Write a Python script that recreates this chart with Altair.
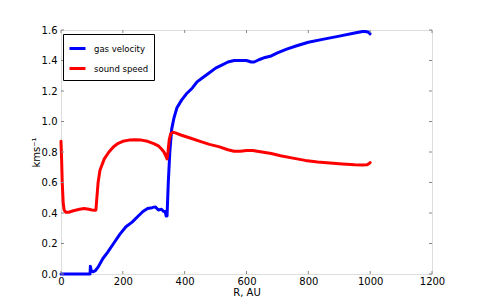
import altair as alt
import pandas as pd

# gas velocity (blue)
gas_r = [0, 90, 94, 95, 98, 103, 110, 120, 135, 150, 170, 190, 210, 230, 250, 265, 280, 295, 305, 315, 325, 332, 337, 340, 343, 347, 352, 358, 365, 375, 390, 405, 420, 425, 440, 460, 480, 500, 520, 540, 560, 580, 600, 615, 625, 640, 660, 680, 700, 730, 760, 800, 850, 900, 950, 975, 985, 995, 1000]
gas_v = [0, 0, 0.0, 0.05, 0.02, 0.015, 0.02, 0.045, 0.1, 0.14, 0.2, 0.26, 0.31, 0.34, 0.38, 0.41, 0.43, 0.435, 0.44, 0.42, 0.425, 0.41, 0.41, 0.38, 0.38, 0.6, 0.8, 0.95, 1.02, 1.09, 1.14, 1.18, 1.21, 1.22, 1.26, 1.29, 1.32, 1.35, 1.37, 1.39, 1.40, 1.40, 1.40, 1.39, 1.39, 1.405, 1.42, 1.43, 1.45, 1.475, 1.495, 1.52, 1.54, 1.56, 1.58, 1.59, 1.59, 1.585, 1.575]

# sound speed (red)
snd_r = [0, 2, 4, 7, 10, 15, 25, 40, 60, 75, 90, 100, 110, 113, 116, 120, 126, 140, 155, 170, 185, 200, 220, 240, 260, 280, 300, 315, 325, 333, 340, 343, 346, 350, 355, 362, 370, 390, 420, 450, 480, 510, 540, 560, 580, 600, 620, 650, 680, 710, 750, 790, 830, 870, 910, 950, 975, 990, 995, 1000]
snd_v = [0.87, 0.75, 0.6, 0.47, 0.42, 0.405, 0.405, 0.415, 0.425, 0.43, 0.425, 0.42, 0.418, 0.42, 0.5, 0.6, 0.68, 0.755, 0.8, 0.835, 0.857, 0.87, 0.878, 0.88, 0.878, 0.87, 0.855, 0.84, 0.82, 0.80, 0.77, 0.755, 0.8, 0.88, 0.92, 0.93, 0.925, 0.91, 0.89, 0.87, 0.85, 0.835, 0.815, 0.805, 0.805, 0.81, 0.81, 0.8, 0.79, 0.775, 0.76, 0.745, 0.735, 0.728, 0.722, 0.717, 0.715, 0.716, 0.722, 0.73]

series_names = ["gas velocity", "sound speed"]
series_colors = ["#0000ff", "#ff0000"]

x_ticks = [0, 200, 400, 600, 800, 1000, 1200]
y_ticks = [0.0, 0.2, 0.4, 0.6, 0.8, 1.0, 1.2, 1.4, 1.6]

df = pd.concat([
    pd.DataFrame({"R": gas_r, "v": gas_v, "series": series_names[0], "order": range(len(gas_r))}),
    pd.DataFrame({"R": snd_r, "v": snd_v, "series": series_names[1], "order": range(len(snd_r))}),
])

W, H = 371, 244
FONT = "DejaVu Sans"

xscale = alt.Scale(domain=[0, 1200], nice=False)
yscale = alt.Scale(domain=[0, 1.6], nice=False)

xaxis = alt.Axis(values=x_ticks, format="d", title="R, AU", grid=False, ticks=False,
                 domain=False, labelFontSize=10, titleFontSize=10,
                 labelPadding=2, titlePadding=1, labelFont=FONT,
                 titleFont=FONT, labelColor="black", titleColor="black",
                 titleFontWeight="normal", labelFlush=False, labelOverlap=False)
yaxis = alt.Axis(values=y_ticks, format=".1f", title="kms⁻¹", grid=False,
                 ticks=False, domain=False, labelFontSize=10, titleFontSize=10,
                 labelPadding=4, titlePadding=0, labelFont=FONT, titleFont=FONT,
                 labelColor="black", titleColor="black",
                 titleFontWeight="normal", labelFlush=False, labelOverlap=False)

lines = alt.Chart(df).mark_line(strokeWidth=3, strokeCap="round", strokeJoin="round").encode(
    x=alt.X("R:Q", scale=xscale, axis=xaxis),
    y=alt.Y("v:Q", scale=yscale, axis=yaxis),
    color=alt.Color("series:N", scale=alt.Scale(domain=series_names, range=series_colors),
                    legend=alt.Legend(title=None, orient="none", legendX=2, legendY=4,
                                      symbolType="stroke", symbolSize=256, symbolStrokeWidth=3,
                                      labelFontSize=8.5, labelFont=FONT, labelColor="black",
                                      strokeColor="black", fillColor="white", padding=5,
                                      rowPadding=4, labelOffset=7, symbolOffset=0, cornerRadius=0)),
    order="order:Q",
)

xt = pd.DataFrame({"t": x_ticks})
yt = pd.DataFrame({"t": y_ticks})
tick_color = "#888888"
xb = alt.Chart(xt).mark_rule(color=tick_color, strokeWidth=1).encode(
    x=alt.X("t:Q", scale=xscale, axis=xaxis), y=alt.value(H), y2=alt.value(H - 3))
xtp = alt.Chart(xt).mark_rule(color=tick_color, strokeWidth=1).encode(
    x=alt.X("t:Q", scale=xscale, axis=xaxis), y=alt.value(0), y2=alt.value(3))
yl = alt.Chart(yt).mark_rule(color=tick_color, strokeWidth=1).encode(
    y=alt.Y("t:Q", scale=yscale, axis=yaxis), x=alt.value(0), x2=alt.value(3))
yr = alt.Chart(yt).mark_rule(color=tick_color, strokeWidth=1).encode(
    y=alt.Y("t:Q", scale=yscale, axis=yaxis), x=alt.value(W), x2=alt.value(W - 3))

chart = alt.layer(lines, xb, xtp, yl, yr).properties(
    width=W, height=H,
    autosize=alt.AutoSizeParams(type="none"),
    padding={"left": 53, "top": 22, "right": 40, "bottom": 30},
).configure_view(stroke="#333333", strokeWidth=1.2).configure(background="white")

chart.save("out.html", embed_options={"renderer": "svg", "actions": False})
